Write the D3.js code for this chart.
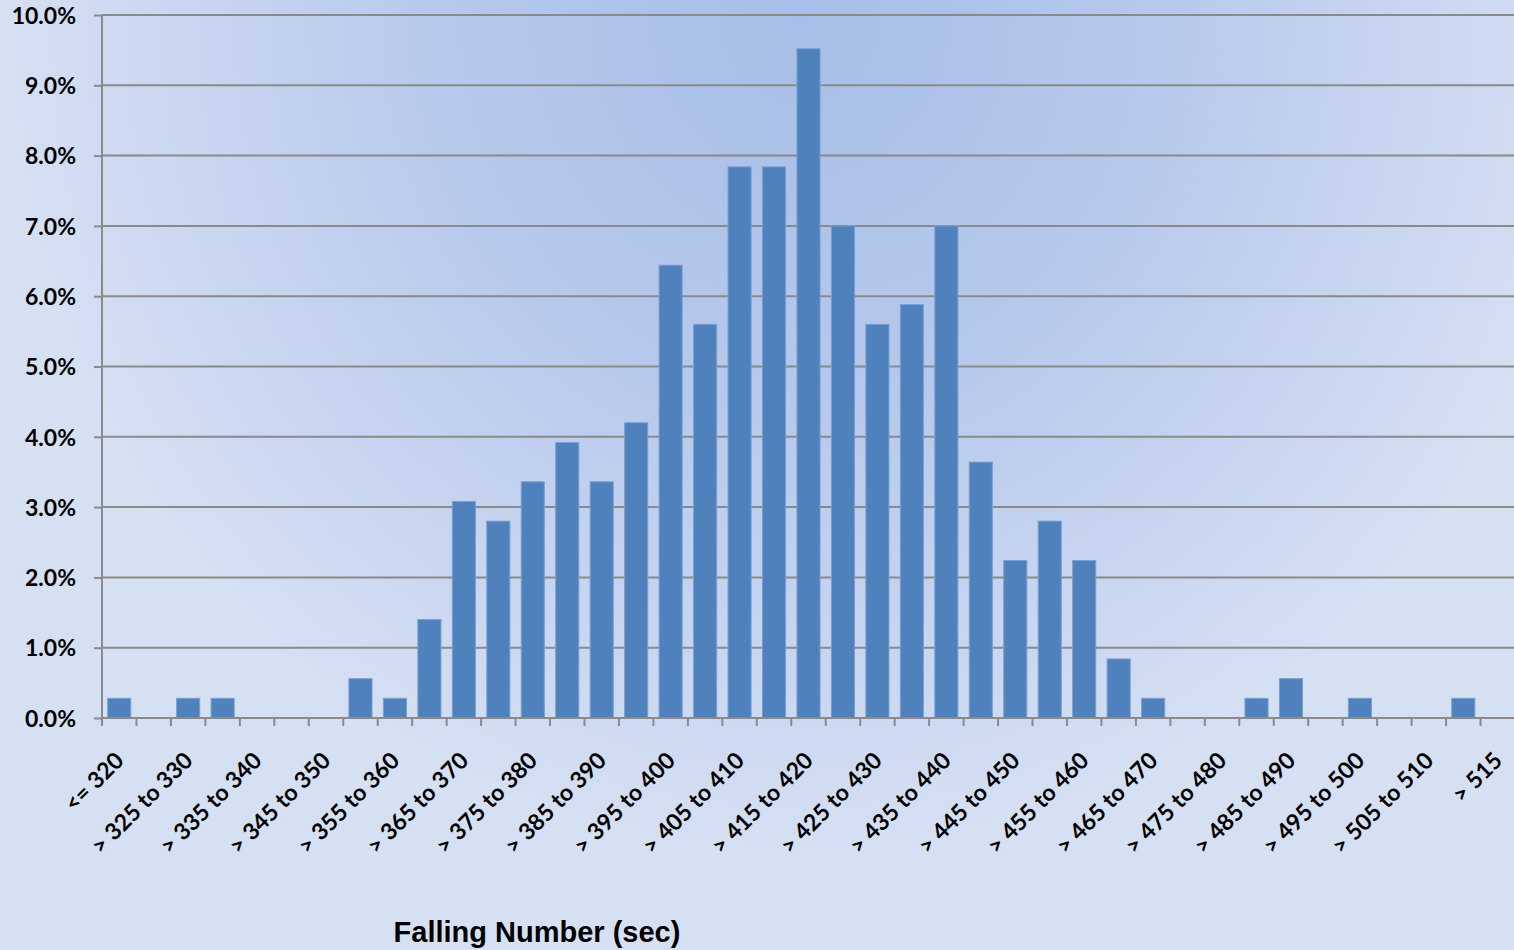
<!DOCTYPE html>
<html>
<head>
<meta charset="utf-8">
<script src="https://cdn.jsdelivr.net/npm/d3@7/dist/d3.min.js"></script>
<style>
  html, body { margin: 0; padding: 0; background: #d6e0f3; }
  svg { display: block; }
</style>
</head>
<body>
<svg id="chart" width="1514" height="950"></svg>
<script>
const categories = [
  "<= 320", "> 320 to 325", "> 325 to 330", "> 330 to 335", "> 335 to 340",
  "> 340 to 345", "> 345 to 350", "> 350 to 355", "> 355 to 360", "> 360 to 365",
  "> 365 to 370", "> 370 to 375", "> 375 to 380", "> 380 to 385", "> 385 to 390",
  "> 390 to 395", "> 395 to 400", "> 400 to 405", "> 405 to 410", "> 410 to 415",
  "> 415 to 420", "> 420 to 425", "> 425 to 430", "> 430 to 435", "> 435 to 440",
  "> 440 to 445", "> 445 to 450", "> 450 to 455", "> 455 to 460", "> 460 to 465",
  "> 465 to 470", "> 470 to 475", "> 475 to 480", "> 480 to 485", "> 485 to 490",
  "> 490 to 495", "> 495 to 500", "> 500 to 505", "> 505 to 510", "> 510 to 515",
  "> 515"
];
const percents = [
  0.28, 0, 0.28, 0.28, 0, 0, 0, 0.56, 0.28, 1.40,
  3.08, 2.80, 3.36, 3.92, 3.36, 4.20, 6.44, 5.60, 7.84, 7.84,
  9.52, 7.00, 5.60, 5.88, 7.00, 3.64, 2.24, 2.80, 2.24, 0.84,
  0.28, 0, 0, 0.28, 0.56, 0, 0.28, 0, 0, 0.28,
  0
];
const yTicks = [0, 1, 2, 3, 4, 5, 6, 7, 8, 9, 10];
const xTitle = "Falling Number (sec)";

const W = 1514, H = 950;
const plot = { left: 102, right: 1515, top: 15, bottom: 718 };

const svg = d3.select("#chart");
const defs = svg.append("defs");
const grad = defs.append("radialGradient")
  .attr("id", "bg")
  .attr("gradientUnits", "userSpaceOnUse")
  .attr("cx", 800).attr("cy", 20).attr("r", 800)
  .attr("gradientTransform", "translate(800,20) scale(1,1.05) translate(-800,-20)");
grad.append("stop").attr("offset", 0).attr("stop-color", "#a8bee8");
grad.append("stop").attr("offset", 0.45).attr("stop-color", "#b6c8eb");
grad.append("stop").attr("offset", 1).attr("stop-color", "#d6e0f3");

svg.append("rect").attr("width", W).attr("height", H).attr("fill", "url(#bg)");

const x = d3.scaleBand()
  .domain(categories)
  .range([plot.left, plot.right])
  .paddingInner(0.33)
  .paddingOuter(0.165);

const y = d3.scaleLinear().domain([0, 10]).range([plot.bottom, plot.top]);

// gridlines
svg.append("g")
  .selectAll("line")
  .data(yTicks.filter(d => d > 0))
  .join("line")
  .attr("x1", plot.left).attr("x2", W)
  .attr("y1", d => y(d)).attr("y2", d => y(d))
  .attr("stroke", "#8a8a8a").attr("stroke-width", 2);

// y axis
const yAxis = svg.append("g")
  .attr("transform", `translate(${plot.left},0)`)
  .call(d3.axisLeft(y).tickValues(yTicks).tickSize(8).tickPadding(18)
    .tickFormat(d => d3.format(".1f")(d) + "%"));
yAxis.select(".domain").attr("stroke", "#8a8a8a").attr("stroke-width", 2)
  .attr("d", `M0,${y(0)}V${y(10)}`);
yAxis.selectAll(".tick line").attr("stroke", "#8a8a8a").attr("stroke-width", 2);
yAxis.selectAll(".tick text")
  .attr("font-family", "Lato, 'Open Sans', sans-serif")
  .attr("font-weight", "bold")
  .attr("font-size", 23)
  .attr("fill", "#000")
  .attr("dy", "0.36em");

// bars
svg.append("g")
  .selectAll("rect")
  .data(categories.map((c, i) => ({ c, v: percents[i] })).filter(d => d.v > 0))
  .join("rect")
  .attr("x", d => x(d.c))
  .attr("width", x.bandwidth())
  .attr("y", d => y(d.v))
  .attr("height", d => y(0) - y(d.v))
  .attr("fill", "#4f81bd")
  .attr("stroke", "#7a9fd3")
  .attr("stroke-width", 1);

// x axis
const step = x.step();
const boundaries = d3.range(categories.length + 1).map(i => plot.left + i * step);
svg.append("line")
  .attr("x1", plot.left).attr("x2", W)
  .attr("y1", y(0)).attr("y2", y(0))
  .attr("stroke", "#8a8a8a").attr("stroke-width", 2);
svg.append("g")
  .selectAll("line")
  .data(boundaries)
  .join("line")
  .attr("x1", d => d).attr("x2", d => d)
  .attr("y1", y(0)).attr("y2", y(0) + 8)
  .attr("stroke", "#8a8a8a").attr("stroke-width", 2);

// x labels (every other category)
svg.append("g")
  .selectAll("text")
  .data(categories.filter((c, i) => i % 2 === 0))
  .join("text")
  .attr("transform", d => `translate(${x(d) + x.bandwidth() / 2 + 6},762) rotate(-45)`)
  .attr("text-anchor", "end")
  .attr("font-family", "Lato, 'Open Sans', sans-serif")
  .attr("font-weight", "bold")
  .attr("font-size", 23)
  .attr("fill", "#000")
  .text(d => d);

// x title
svg.append("text")
  .attr("x", 537).attr("y", 942)
  .attr("text-anchor", "middle")
  .attr("font-family", "'Liberation Sans', Arial, sans-serif")
  .attr("font-weight", "bold")
  .attr("font-size", 29)
  .attr("fill", "#000")
  .text(xTitle);
</script>
</body>
</html>
